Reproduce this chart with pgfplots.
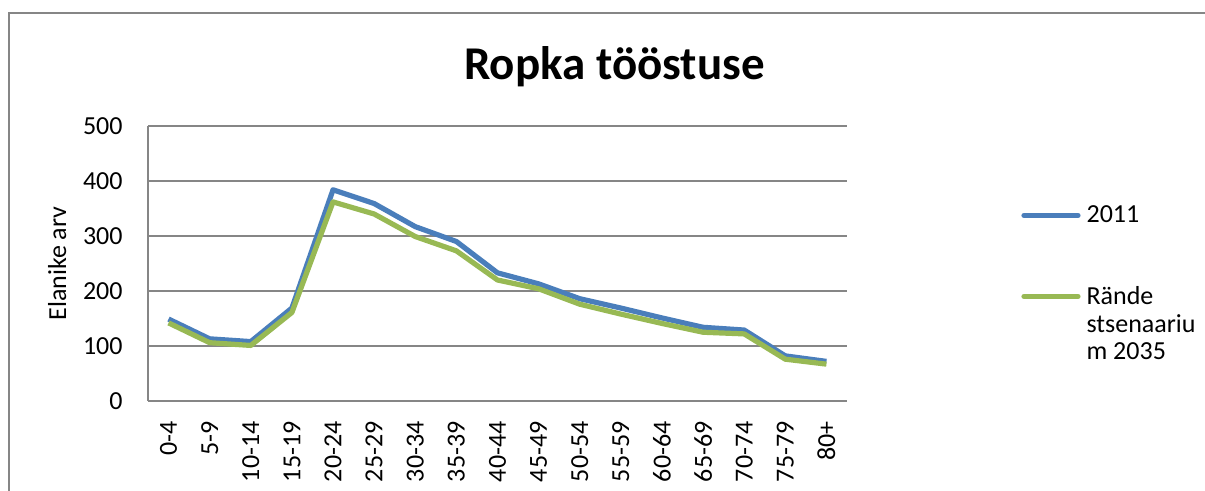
\documentclass[border=0pt]{standalone}
\usepackage{fontspec}
\setmainfont{Carlito}
\usepackage{pgfplots}
\pgfplotsset{compat=1.18}
\definecolor{serblue}{HTML}{4A7EBB}
\definecolor{sergreen}{HTML}{98B954}
\definecolor{framegray}{HTML}{868686}

\begin{document}
\begin{tikzpicture}
\useasboundingbox (0,0) rectangle (602.5pt,245.5pt);
% chart frame (right and bottom edges fall outside the picture)
\draw[framegray, line width=1pt] (4.5pt,-5pt) -- (4.5pt,239pt) -- (615pt,239pt);
\node[font=\fontsize{23.5}{28}\selectfont\bfseries, anchor=base] at (307.25pt,205.5pt) {Ropka tööstuse};
\begin{axis}[
  at={(74pt,45pt)}, anchor=south west,
  scale only axis, width=349.5pt, height=137.5pt,
  xmin=-0.5, xmax=16.5, ymin=0, ymax=500,
  ytick={0,100,...,500},
  xtick={0,...,16},
  xticklabels={0-4,5-9,10-14,15-19,20-24,25-29,30-34,35-39,40-44,45-49,50-54,55-59,60-64,65-69,70-74,75-79,80+},
  axis x line*=bottom, axis y line*=left,
  axis line style={framegray, line width=0.75pt, -},
  ymajorgrids, major grid style={framegray, line width=0.75pt},
  major tick length=0pt,
  tick label style={font=\fontsize{13}{15}\selectfont},
  /pgf/number format/assume math mode=true,
  xticklabel style={rotate=90, anchor=east, inner sep=0pt},
  xticklabel shift=10pt,
  yticklabel style={anchor=east, inner sep=0pt},
  yticklabel shift=12.5pt,
  ylabel={Elanike arv},
  ylabel style={font=\fontsize{13}{15}\selectfont, inner sep=0pt,
    at={(axis description cs:-0.1173,0.5)}, anchor=base},
  legend cell align=left,
  legend image code/.code={\draw[#1, line cap=round] (0pt,0pt) -- (27pt,0pt);},
  legend style={draw=none, fill=none, inner sep=0pt,
    at={(axis description cs:1.2489,0.7127)}, anchor=north west,
    row sep=30pt, column sep=3pt,
    nodes={inner sep=0pt, font=\fontsize{13}{13.75}\selectfont}},
  line join=round,
]
\addplot[serblue, line width=2.6pt] coordinates {
  (0,149) (1,113) (2,108) (3,169) (4,384) (5,359) (6,317) (7,290) (8,233)
  (9,213) (10,186) (11,169) (12,151) (13,134) (14,129) (15,82) (16,72)};
\addlegendentry{2011}
\addplot[sergreen, line width=2.6pt] coordinates {
  (0,142) (1,106) (2,101) (3,161) (4,362) (5,340) (6,299) (7,273) (8,220)
  (9,204) (10,176) (11,158) (12,141) (13,125) (14,122) (15,76) (16,67)};
\addlegendentry{\begin{tabular}[t]{@{}l@{}}Rände\\stsenaariu\\m 2035\end{tabular}}
\end{axis}
\end{tikzpicture}
\end{document}
